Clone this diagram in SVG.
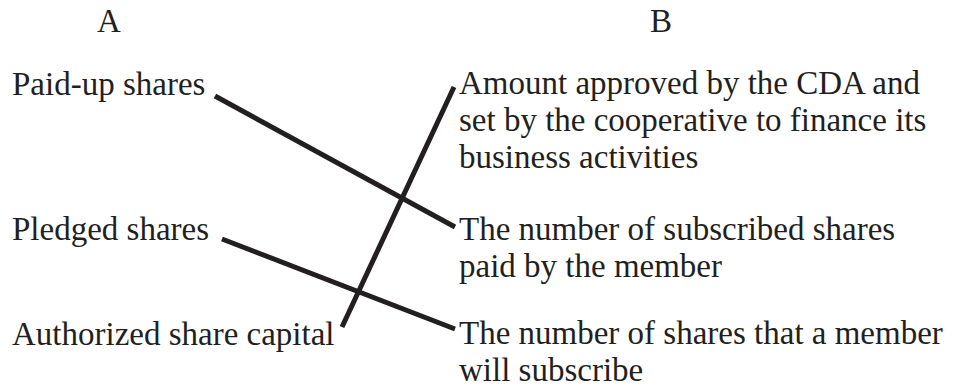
<svg xmlns="http://www.w3.org/2000/svg" width="956" height="389" viewBox="0 0 956 389">
<style>
text{font-family:"Liberation Serif","Times New Roman",serif;font-size:33px;fill:#231f20}
.c{stroke:#231f20;stroke-width:5;fill:none}
</style>
<rect width="956" height="389" fill="#fff"/>
<g id="headers">
<text x="97" y="32">A</text>
<text x="650" y="32">B</text>
</g>
<g id="a1"><text x="12" y="95">Paid-up shares</text></g>
<g id="a2"><text x="12" y="240">Pledged shares</text></g>
<g id="a3"><text x="12" y="345">Authorized share capital</text></g>
<g id="b1"><text x="459" y="94">Amount approved by the CDA and</text><text x="459" y="131">set by the cooperative to finance its</text><text x="459" y="168">business activities</text></g>
<g id="b2"><text x="459" y="240">The number of subscribed shares</text><text x="459" y="277">paid by the member</text></g>
<g id="b3"><text x="459" y="344">The number of shares that a member</text><text x="459" y="381">will subscribe</text></g>
<g id="connectors">
<line class="c" x1="215" y1="96" x2="455" y2="227"/>
<line class="c" x1="222" y1="239" x2="455" y2="329"/>
<line class="c" x1="342" y1="327" x2="454" y2="87"/>
</g>
</svg>
